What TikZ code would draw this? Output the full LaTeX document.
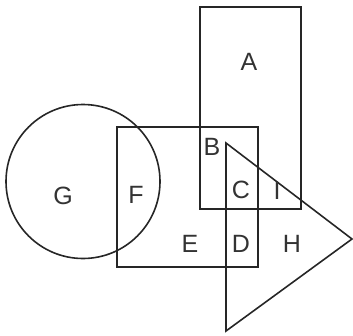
\documentclass[tikz,border=0pt]{standalone}
\usepackage{fontspec}
\setmainfont{Liberation Sans}
\begin{document}
\begin{tikzpicture}[x=1pt,y=-1pt,
  shp/.style={draw=black!85,line width=1.6pt},
  lbl/.style={font=\fontsize{25}{25}\selectfont,text=black!80,inner sep=0pt}]
\useasboundingbox (0,0) rectangle (353,335);
\draw[shp] (200,7) rectangle (301,209);
\draw[shp] (117,127) rectangle (258,267);
\draw[shp] (83,181.5) circle (77);
\draw[shp] (226,143) -- (352,239) -- (226,331) -- cycle;
\node[lbl] (A) at (249,62) {A};
\node[lbl] (B) at (212,147) {B};
\node[lbl] (C) at (241,190) {C};
\node[lbl] (I) at (277,191) {I};
\node[lbl] (G) at (63,196) {G};
\node[lbl] (F) at (136,195) {F};
\node[lbl] (E) at (190,244) {E};
\node[lbl] (D) at (241,244) {D};
\node[lbl] (H) at (292,244) {H};
\end{tikzpicture}
\end{document}
